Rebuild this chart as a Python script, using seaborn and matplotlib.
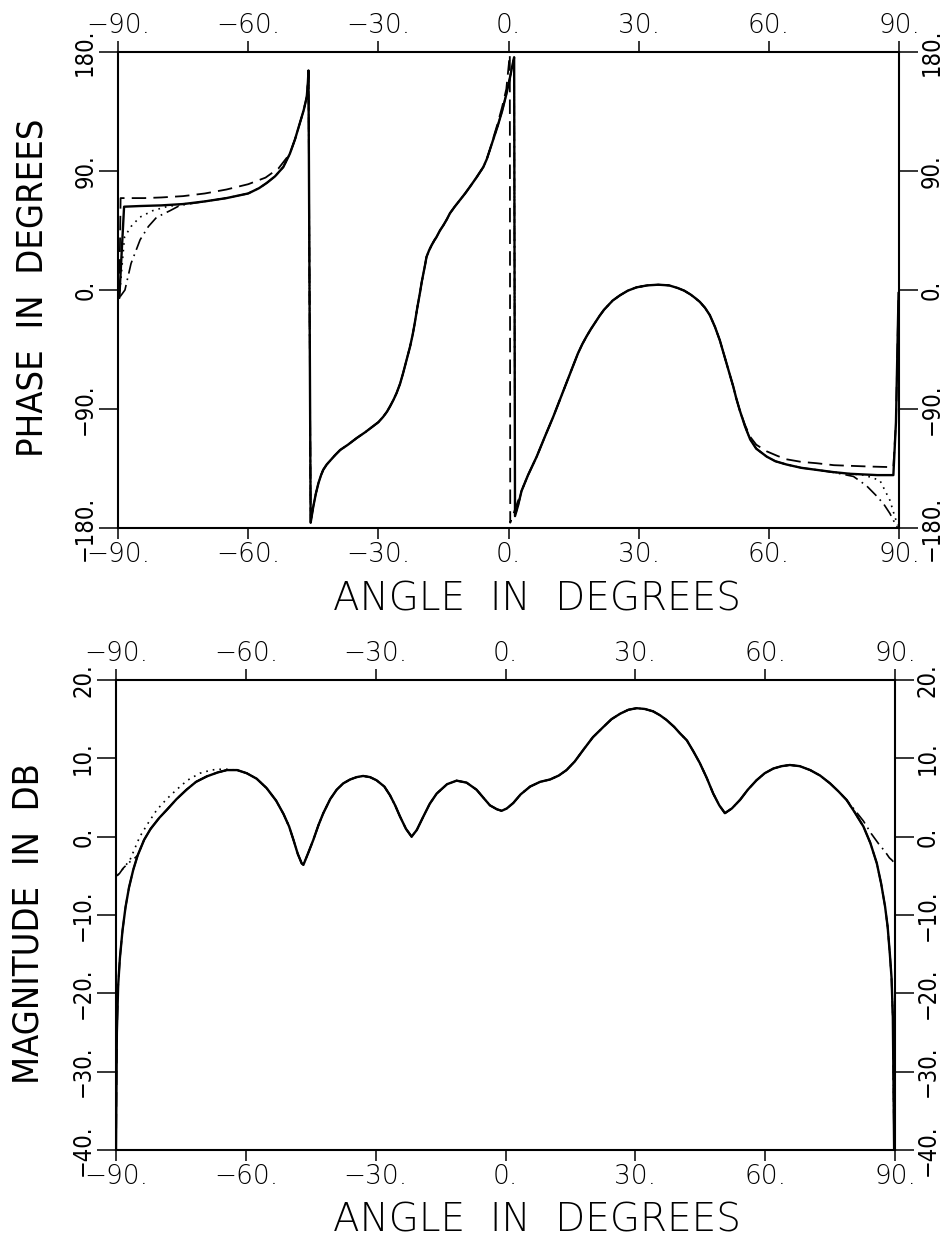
import matplotlib
matplotlib.use("Agg")
import matplotlib.pyplot as plt
import seaborn as sns
import pandas as pd

# ================= PHASE PANEL DATA (angle in degrees, phase in degrees) =================
# pieces shared by all four curves
phase_core_a_ang = [-50.4, -49.2, -48.1, -47.2, -46.5, -46.25, -46.1, -45.6, -45.0, -44.4, -43.8, -43.2, -42.7,
                    -41.9, -41.1, -40, -38.8, -37, -35, -33, -31.2, -30, -28.9, -28, -27.3, -26.5, -25.8, -25,
                    -24.3, -23.5, -22.7, -22.1, -21.6, -21, -20.4, -20, -19.6, -19.2, -18.9, -18.3, -17.7,
                    -17.1, -16.6, -15.8, -15, -14.2, -13.5, -12.4, -11.2, -10, -8.9, -7.4, -5.8, -5, -4.3]
phase_core_a = [103, 114, 126, 136, 146, 156, 166, -176, -164, -154, -146, -140, -136,
                -132, -129, -125, -121, -117, -112, -107.5, -103, -100, -96, -92, -88, -83, -78, -71,
                -63, -53, -43, -34, -25, -13, -2, 6, 12.6, 19.5, 25, 30, 34,
                37.5, 40, 45, 49, 53.5, 58, 63, 68, 73, 78, 85, 93, 99, 106]
phase_core_b_ang = [4.5, 5.5, 6.5, 7.5, 8.5, 10.3, 12.2, 14.2, 16, 17, 18, 19, 20, 21, 22, 23, 24, 25.7, 27.5,
                    29.5, 32, 34.5, 37, 39, 40.5, 42, 43, 44.1, 45.3, 46.4, 47.6, 48.7, 49.5, 50.3, 51, 51.8,
                    52.5, 53.3]
phase_core_b = [-140, -133, -126, -118, -110, -96, -80, -63, -48, -41, -35, -29.5, -24.5, -19.5, -15, -11.5, -8,
                -4, -0.5, 2, 3.5, 4, 3.5, 1.5, -0.5, -3.5, -6, -9, -13.5, -19, -28, -38, -47, -56, -64, -73,
                -82, -91]

# solid curve pieces
phase_solid_left_ang = [-89.7, -88.6, -85, -80, -75, -70, -65, -60, -57.5, -55.7, -53.8, -51.9]
phase_solid_left = [-6, 63, 63.5, 64, 65, 67, 69.5, 73, 77, 81, 86, 93]
phase_solid_wrap_ang = [-3.5, -2.5, -1.5, -0.5, 0.3, 0.9, 1.3, 1.5, 2.2, 3]
phase_solid_wrap = [114, 124, 135, 148, 160, 170, 176, -171, -163, -152]
phase_solid_right_ang = [54.5, 55.7, 57.1, 59.5, 61.5, 64.1, 67.5, 71, 74.8, 78.7, 82, 85, 88.7, 89.3, 89.9]
phase_solid_right = [-103, -113, -120, -126, -129.5, -132, -134.5, -136, -137.7, -139, -139.5, -140, -140, -100, -2]

# dashed curve pieces
phase_dashed_left_ang = [-89.7, -89.4, -88, -84, -80, -75, -70, -65, -60, -56, -53]
phase_dashed_left = [-4, 69.5, 69.5, 69.5, 70, 71, 73, 76, 80, 85, 92]
phase_dashed_wrap_ang = [-3.5, -2.5, -1.5, -0.5, 0.3, 0.4, 1.5, 3]
phase_dashed_wrap = [115, 126, 138, 152, 178, -176, -166, -152]
phase_dashed_right_ang = [54.5, 55.7, 57.1, 59.5, 62, 64, 67.5, 71, 75, 79, 83, 88.7, 89.3, 89.9]
phase_dashed_right = [-102, -111, -117, -122, -125.5, -128, -130, -131, -132.5, -133, -133.5, -134, -100, -2]

# dotted curve pieces
phase_dotted_left_ang = [-89.7, -88.5, -87, -85, -82, -78.8, -75, -70, -65, -60, -57.5, -55.7, -53.8, -51.9]
phase_dotted_left = [-6, 40, 48, 55, 60, 63, 65, 67, 69.5, 73, 77, 81, 86, 93]
phase_dotted_right_ang = [54.5, 55.7, 57.1, 59.5, 61.5, 64.1, 67.5, 71, 74.8, 78.7, 82, 85.6, 87.9, 89, 89.7]
phase_dotted_right = [-103, -113, -120, -126, -129.5, -132, -134.5, -136, -137.7, -139, -140, -144, -159, -171,
                      -178]

# dash-dot curve pieces
phase_dashdot_left_ang = [-89.5, -88.4, -87, -84.9, -83, -81.1, -78, -75.7, -72, -70, -65, -60, -57.5, -55.7,
                          -53.8, -51.9]
phase_dashdot_left = [-5, 0, 20, 38, 48, 55, 60, 64, 66, 67, 69.5, 73, 77, 81, 86, 93]
phase_dashdot_right_ang = [54.5, 55.7, 57.1, 59.5, 61.5, 64.1, 67.5, 71, 75, 79.5, 82.5, 84.9, 86.5, 87.9, 89,
                           89.7]
phase_dashdot_right = [-103, -113, -120, -126, -129.5, -132, -134.5, -136, -138, -141, -148, -156, -162, -169,
                       -176, -180]

# ================= MAGNITUDE PANEL DATA (angle in degrees, magnitude in dB) =================
mag_core_ang = [-62, -59.8, -57.5, -55.2, -53, -51.3, -50, -49, -48, -47.1, -46.7, -45.6, -44.4, -43.2, -42.1,
                -40.5, -39, -37.5, -35.9, -34.4, -32.9, -31.3, -29.8, -28, -26.7, -25.5, -24.4, -23, -21.7,
                -20.5, -19, -17.5, -15.9, -13.5, -11.3, -9, -6.7, -5, -3.6, -2, -0.9, 0.3, 1.8, 3.5, 5.7, 8,
                10.3, 12.3, 14.1, 16, 18, 20.2, 22.6, 24.5, 26.5, 28.4, 30.3, 32.2, 34.1, 35.7, 37.2, 39,
                40.3, 41.9, 43.4, 44.9, 46.5, 48, 49.4, 50.7, 52.3, 54.2, 56, 58, 59.9, 61.9, 63.8, 65.7, 68,
                70.4, 72.7, 75, 76.9]
mag_core = [8.5, 8.1, 7.4, 6.2, 4.6, 2.9, 1.3, -0.4, -2.2, -3.4, -3.6, -2.1, -0.4, 1.5, 3.0,
            4.8, 6.0, 6.8, 7.3, 7.6, 7.75, 7.6, 7.2, 6.4, 5.3, 4.0, 2.6, 1.0, 0.0,
            0.85, 2.55, 4.2, 5.5, 6.7, 7.15, 6.9, 6.0, 4.9, 4.0, 3.5, 3.3, 3.6, 4.3, 5.4, 6.4, 7.0,
            7.3, 7.8, 8.5, 9.6, 11.1, 12.7, 14.0, 15.0, 15.7, 16.2, 16.4, 16.3, 16.0, 15.5, 14.9, 14.0,
            13.2, 12.3, 10.9, 9.4, 7.5, 5.5, 4.0, 3.0, 3.6, 4.7, 6.0, 7.2, 8.1, 8.7, 9.0, 9.15, 9.0,
            8.5, 7.8, 6.8, 5.8]

mag_solid_left_ang = [-90, -89.8, -89.5, -89.1, -88.5, -87.8, -87, -86, -85, -83.5, -82, -80, -78.3, -76, -73.7,
                      -71.5, -69, -66.5, -64.4]
mag_solid_left = [-40, -25, -19, -15.5, -12, -9, -6.5, -4.2, -2.4, -0.4, 1.0, 2.4, 3.4, 4.8, 6.0,
                  7.0, 7.7, 8.2, 8.5]
mag_solid_right_ang = [78.8, 80.7, 82.7, 84.3, 85.8, 86.8, 87.7, 88.3, 88.8, 89.2, 89.5, 89.8]
mag_solid_right = [4.7, 3.1, 1.3, -0.8, -3.4, -6.0, -8.9, -11.5, -14.9, -18, -23, -40]

mag_dotted_left_ang = [-89.6, -88.7, -86.8, -84.5, -82.5, -80.6, -78.3, -76, -73.5, -70.6, -68, -66.5, -64.4]
mag_dotted_left = [-4.9, -4.3, -3.0, 0.0, 1.8, 3.4, 4.8, 6.0, 7.2, 8.1, 8.5, 8.6, 8.6]

mag_dashdot_left_ang = [-89.8, -89.2, -88.3, -87, -86, -85, -83.5, -82, -80, -78.3, -76, -73.7, -71.5, -69,
                        -66.5, -64.4]
mag_dashdot_left = [-5.0, -4.7, -4.0, -3.3, -2.9, -2.4, -0.4, 1.0, 2.4, 3.4, 4.8, 6.0, 7.0, 7.7, 8.2, 8.5]
mag_dashdot_right_ang = [78.8, 80.7, 82.7, 84.5, 86.2, 87.7, 88.7, 89.3, 89.6]
mag_dashdot_right = [4.7, 3.4, 2.0, 0.4, -0.9, -1.9, -2.7, -3.0, -3.2]

# ================= tick values / labels / titles =================
angle_ticks = [-90, -60, -30, 0, 30, 60, 90]
angle_labels = ["\u221290.", "\u221260.", "\u221230.", "0.", "30.", "60.", "90."]
phase_ticks = [-180, -90, 0, 90, 180]
phase_labels = ["\u2212180.", "\u221290.", "0.", "90.", "180."]
mag_ticks = [-40, -30, -20, -10, 0, 10, 20]
mag_labels = ["\u221240.", "\u221230.", "\u221220.", "\u221210.", "0.", "10.", "20."]

x_title = "ANGLE  IN  DEGREES"
phase_title = "PHASE  IN  DEGREES"
mag_title = "MAGNITUDE  IN  DB"

# assemble full curves from the pieces
phase_series = {
    "dashed": (phase_dashed_left_ang + phase_core_a_ang + phase_dashed_wrap_ang + phase_core_b_ang + phase_dashed_right_ang,
               phase_dashed_left + phase_core_a + phase_dashed_wrap + phase_core_b + phase_dashed_right),
    "dotted": (phase_dotted_left_ang + phase_core_a_ang + phase_solid_wrap_ang + phase_core_b_ang + phase_dotted_right_ang,
               phase_dotted_left + phase_core_a + phase_solid_wrap + phase_core_b + phase_dotted_right),
    "dashdot": (phase_dashdot_left_ang + phase_core_a_ang + phase_solid_wrap_ang + phase_core_b_ang + phase_dashdot_right_ang,
                phase_dashdot_left + phase_core_a + phase_solid_wrap + phase_core_b + phase_dashdot_right),
    "solid": (phase_solid_left_ang + phase_core_a_ang + phase_solid_wrap_ang + phase_core_b_ang + phase_solid_right_ang,
              phase_solid_left + phase_core_a + phase_solid_wrap + phase_core_b + phase_solid_right),
}
mag_series = {
    "dashed": (mag_solid_left_ang + mag_core_ang + mag_solid_right_ang,
               mag_solid_left + mag_core + mag_solid_right),
    "dotted": (mag_dotted_left_ang + mag_core_ang + mag_solid_right_ang,
               mag_dotted_left + mag_core + mag_solid_right),
    "dashdot": (mag_dashdot_left_ang + mag_core_ang + mag_dashdot_right_ang,
                mag_dashdot_left + mag_core + mag_dashdot_right),
    "solid": (mag_solid_left_ang + mag_core_ang + mag_solid_right_ang,
              mag_solid_left + mag_core + mag_solid_right),
}

# ================= styling =================
sns.set_theme(style="ticks")
plt.rcParams["font.family"] = ["DejaVu Sans"]
plt.rcParams["font.weight"] = "light"
plt.rcParams["axes.labelweight"] = "light"
plt.rcParams["axes.linewidth"] = 1.5

fig = plt.figure(figsize=(9.49, 12.47), dpi=100)
ax1 = fig.add_axes([118 / 949, 1 - 528 / 1247, 781 / 949, 476 / 1247])
ax2 = fig.add_axes([116 / 949, 1 - 1150 / 1247, 779 / 949, 470 / 1247])

styles = {
    "dashed": dict(linestyle=(0, (8, 4)), linewidth=1.3),
    "dotted": dict(linestyle=(0, (1, 3)), linewidth=1.2),
    "dashdot": dict(linestyle=(0, (8, 3, 1, 3)), linewidth=1.2),
    "solid": dict(linestyle="-", linewidth=1.7),
}


def draw(ax, series):
    for name, (xs, ys) in series.items():
        df = pd.DataFrame({"angle": xs, "value": ys})
        sns.lineplot(data=df, x="angle", y="value", ax=ax, sort=False, estimator=None,
                     color="black", **styles[name])


draw(ax1, phase_series)
draw(ax2, mag_series)


def style_axes(ax, yticks, ylabels, ylim, ylabel, xlab_xy, ylab_xy):
    ax.set_xlim(-90, 90)
    ax.set_ylim(*ylim)
    ax.set_xticks(angle_ticks)
    ax.set_xticklabels(angle_labels)
    ax.set_yticks(yticks)
    ax.set_yticklabels(ylabels)
    ax.tick_params(axis="x", which="both", direction="out", length=8, width=1.1, top=True, bottom=True,
                   labeltop=True, labelbottom=True, labelsize=19, pad=2, colors="black")
    ax.tick_params(axis="y", which="both", direction="out", length=14, width=1.1, left=True, right=True,
                   labelleft=True, labelright=True, labelsize=17, pad=1, colors="black")
    for t in ax.yaxis.get_major_ticks():
        for lab in (t.label1, t.label2):
            lab.set_rotation(90)
            lab.set_va("center")
            lab.set_fontstretch("condensed")
    for sp in ax.spines.values():
        sp.set_visible(True)
        sp.set_color("black")
        sp.set_linewidth(1.5)
    ax.set_xlabel(x_title, fontsize=28, color="black", fontweight="light")
    ax.set_ylabel(ylabel, fontsize=26, color="black", fontstretch="condensed", fontweight="light")
    ax.xaxis.label.set_va("center")
    ax.yaxis.label.set_va("center")
    ax.xaxis.set_label_coords(*xlab_xy)
    ax.yaxis.set_label_coords(*ylab_xy)
    ax.set_facecolor("white")


style_axes(ax1, phase_ticks, phase_labels, (-180, 180), phase_title, (0.536, -0.151), (-0.110, 0.504))
style_axes(ax2, mag_ticks, mag_labels, (-40, 20), mag_title, (0.540, -0.149), (-0.112, 0.481))

fig.savefig("out.png", dpi=100, facecolor="white")
